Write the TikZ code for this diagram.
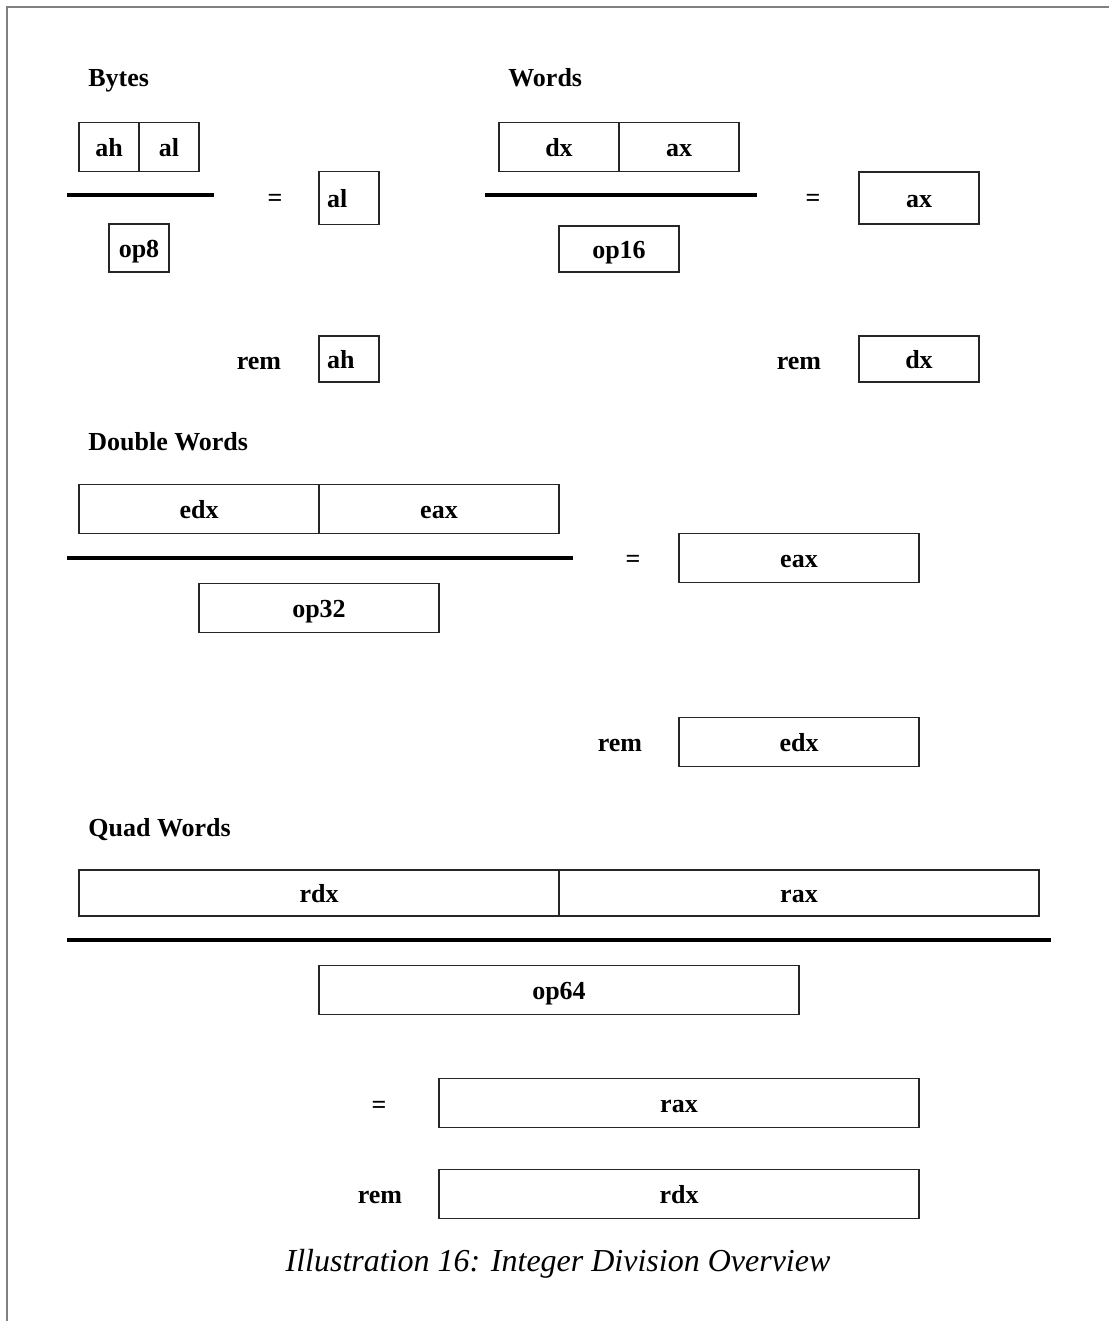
\documentclass[tikz,border=0pt]{standalone}
\usepackage{fontspec}
\setmainfont{Liberation Serif}
\usetikzlibrary{positioning}

\begin{document}
\begin{tikzpicture}[
  x=0.5pt, y=-0.5pt,
  reg/.style={draw=black!85, line width=0.7pt, minimum height=24.5pt, inner sep=0pt, outer sep=0pt,
    text height=10.5pt, text depth=1pt, font=\fontsize{13}{15}\selectfont\bfseries},
  regl/.style={reg, text width=22pt, inner xsep=4pt, align=left},
  frac/.style={line width=1.7pt},
  head/.style={anchor=west, inner sep=0pt, text height=10.5pt, text depth=1pt, font=\fontsize{13}{15}\selectfont\bfseries},
  label/.style={inner sep=0pt, text height=10.5pt, text depth=1pt, font=\fontsize{13}{15}\selectfont\bfseries},
]
\useasboundingbox (0,0) rectangle (1109,1321);
\draw[gray, line width=1pt] (7,1321) -- (7,7) -- (1109,7);

% === BYTES ===
\node[head] (bytes) at (88,77) {Bytes};
\node[reg, minimum width=30pt] (ah) at (109,147) {ah};
\node[reg, minimum width=30pt, right=0pt of ah] (al) {al};
\coordinate (b1) at (67,195);
\coordinate (b2) at (214,195);
\draw[frac] (b1) -- (b2);
\node[reg, minimum width=30pt, minimum height=24pt] (op8) at (139,248) {op8};
\node[label] (beq) at (275,197) {=};
\node[regl, minimum height=26.5pt] (bq) at (349,198) {al};
\node[label] (brem) at (259,360) {rem};
\node[regl, minimum height=23pt] (br) at (349,359) {ah};

% === WORDS ===
\node[head] (words) at (508,77) {Words};
\node[reg, minimum width=60pt] (dx) at (559,147) {dx};
\node[reg, minimum width=60pt, right=0pt of dx] (ax) {ax};
\coordinate (w1) at (485,195);
\coordinate (w2) at (757,195);
\draw[frac] (w1) -- (w2);
\node[reg, minimum width=60pt, minimum height=23pt] (op16) at (619,249) {op16};
\node[label] (weq) at (813,197) {=};
\node[reg, minimum width=60pt, minimum height=26pt] (wq) at (919,198) {ax};
\node[label] (wrem) at (799,360) {rem};
\node[reg, minimum width=60pt, minimum height=23pt] (wr) at (919,359) {dx};

% === DOUBLE WORDS ===
\node[head] (dwords) at (88,441) {Double Words};
\node[reg, minimum width=120pt] (edx) at (199,509) {edx};
\node[reg, minimum width=120pt, right=0pt of edx] (eax) {eax};
\coordinate (d1) at (67,558);
\coordinate (d2) at (573,558);
\draw[frac] (d1) -- (d2);
\node[reg, minimum width=120pt] (op32) at (319,608) {op32};
\node[label] (deq) at (633,558) {=};
\node[reg, minimum width=120pt] (dq) at (799,558) {eax};
\node[label] (drem) at (620,742) {rem};
\node[reg, minimum width=120pt] (dr) at (799,742) {edx};

% === QUAD WORDS ===
\node[head] (qwords) at (88,827) {Quad Words};
\node[reg, minimum width=240pt, minimum height=23pt] (rdx) at (319,893) {rdx};
\node[reg, minimum width=240pt, minimum height=23pt, right=0pt of rdx] (rax) {rax};
\coordinate (q1) at (67,940);
\coordinate (q2) at (1051,940);
\draw[frac] (q1) -- (q2);
\node[reg, minimum width=240pt] (op64) at (559,990) {op64};
\node[label] (qeq) at (379,1104) {=};
\node[reg, minimum width=240pt] (qq) at (679,1103) {rax};
\node[label] (qrem) at (380,1194) {rem};
\node[reg, minimum width=240pt] (qr) at (679,1194) {rdx};

\node[font=\fontsize{16}{18}\selectfont\itshape] (caption) at (558,1264) {Illustration 16: Integer Division Overview};
\end{tikzpicture}
\end{document}
